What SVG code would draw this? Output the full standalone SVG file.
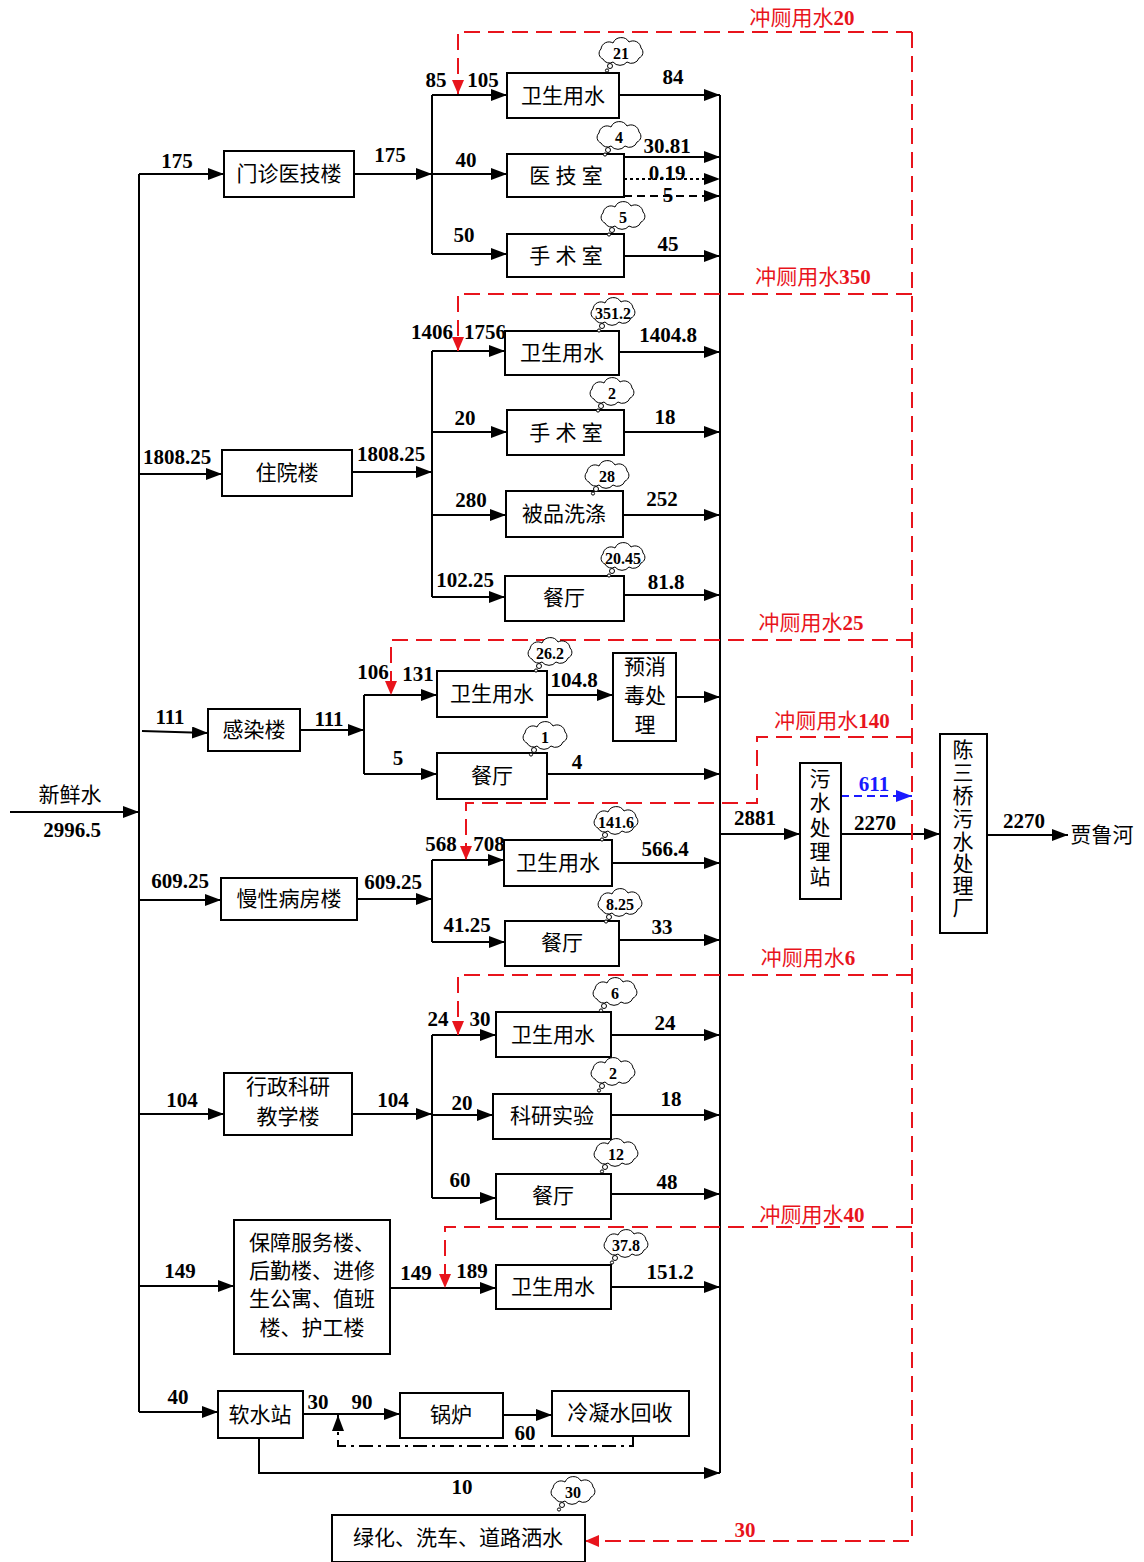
<svg xmlns="http://www.w3.org/2000/svg" width="1144" height="1562" viewBox="0 0 1144 1562">
<style>
.b{fill:#fff;stroke:#000;stroke-width:2}
.l{fill:none;stroke:#000;stroke-width:2}
.rd{fill:none;stroke:#e8141c;stroke-width:2;stroke-dasharray:16,8}
.n{font-family:"Liberation Serif",serif;font-weight:bold;font-size:21px;text-anchor:middle;fill:#000}
.c{font-family:"Liberation Serif","Noto Sans CJK SC",serif;font-size:21px;text-anchor:middle;fill:#000}
.r{fill:#e8141c}
.cn{font-family:"Liberation Serif",serif;font-weight:bold;font-size:16px;text-anchor:middle}
.cl{fill:#fff;stroke:#000;stroke-width:1}
</style>
<defs>
<marker id="a" markerWidth="16" markerHeight="12" refX="16" refY="6" orient="auto" markerUnits="userSpaceOnUse"><path d="M0,0L16,6L0,12z" fill="#000"/></marker>
<marker id="ar" markerWidth="14" markerHeight="12" refX="14" refY="6" orient="auto" markerUnits="userSpaceOnUse"><path d="M0,0L14,6L0,12z" fill="#e8141c"/></marker>
<marker id="ab" markerWidth="16" markerHeight="12" refX="16" refY="6" orient="auto" markerUnits="userSpaceOnUse"><path d="M0,0L16,6L0,12z" fill="#1a1aff"/></marker>
<g id="cloud">
<path class="cl" d="M-18,6a6,6 0 0 1 -2,-10a8,8 0 0 1 12,-6a9,9 0 0 1 16,-1a8,8 0 0 1 12,6a6,6 0 0 1 -2,10a8,8 0 0 1 -12,4a9,9 0 0 1 -14,0a7,7 0 0 1 -10,-3z"/>
<circle class="cl" cx="-11" cy="13" r="2.5"/>
<circle class="cl" cx="-14" cy="17.5" r="1.6"/>
</g>
</defs>

<g id="connectors">
<path class="l" d="M139,174V1412"/>
<path class="l" d="M10,812H139" marker-end="url(#a)"/>
<path class="l" d="M139,174H224" marker-end="url(#a)"/>
<path class="l" d="M139,474H222" marker-end="url(#a)"/>
<path class="l" d="M142,731L208,733" marker-end="url(#a)"/>
<path class="l" d="M139,900H221" marker-end="url(#a)"/>
<path class="l" d="M139,1114H224" marker-end="url(#a)"/>
<path class="l" d="M139,1286H234" marker-end="url(#a)"/>
<path class="l" d="M139,1412H218" marker-end="url(#a)"/>
<path class="l" d="M354,174H432" marker-end="url(#a)"/>
<path class="l" d="M432,95V254"/>
<path class="l" d="M432,95H507" marker-end="url(#a)"/>
<path class="l" d="M432,174H507" marker-end="url(#a)"/>
<path class="l" d="M432,254H507" marker-end="url(#a)"/>
<path class="l" d="M619,95H720" marker-end="url(#a)"/>
<path class="l" d="M624,157H720" marker-end="url(#a)"/>
<path class="l" d="M624,179H720" stroke-dasharray="3,3" marker-end="url(#a)"/>
<path class="l" d="M624,196H720" stroke-dasharray="8,5" marker-end="url(#a)"/>
<path class="l" d="M624,256H720" marker-end="url(#a)"/>
<path class="l" d="M352,472H432" marker-end="url(#a)"/>
<path class="l" d="M432,351V597"/>
<path class="l" d="M432,351H505" marker-end="url(#a)"/>
<path class="l" d="M432,432H507" marker-end="url(#a)"/>
<path class="l" d="M432,515H506" marker-end="url(#a)"/>
<path class="l" d="M432,597H505" marker-end="url(#a)"/>
<path class="l" d="M619,352H720" marker-end="url(#a)"/>
<path class="l" d="M624,432H720" marker-end="url(#a)"/>
<path class="l" d="M623,515H720" marker-end="url(#a)"/>
<path class="l" d="M624,595H720" marker-end="url(#a)"/>
<path class="l" d="M300,730H364" marker-end="url(#a)"/>
<path class="l" d="M364,695V774"/>
<path class="l" d="M364,695H437" marker-end="url(#a)"/>
<path class="l" d="M364,774H437" marker-end="url(#a)"/>
<path class="l" d="M547,695H613" marker-end="url(#a)"/>
<path class="l" d="M676,697H720" marker-end="url(#a)"/>
<path class="l" d="M547,774H720" marker-end="url(#a)"/>
<path class="l" d="M357,899H432" marker-end="url(#a)"/>
<path class="l" d="M432,860V942"/>
<path class="l" d="M432,860H504" marker-end="url(#a)"/>
<path class="l" d="M432,942H505" marker-end="url(#a)"/>
<path class="l" d="M612,863H720" marker-end="url(#a)"/>
<path class="l" d="M619,940H720" marker-end="url(#a)"/>
<path class="l" d="M352,1114H432" marker-end="url(#a)"/>
<path class="l" d="M432,1035V1198"/>
<path class="l" d="M432,1035H496" marker-end="url(#a)"/>
<path class="l" d="M432,1115H493" marker-end="url(#a)"/>
<path class="l" d="M432,1198H496" marker-end="url(#a)"/>
<path class="l" d="M611,1035H720" marker-end="url(#a)"/>
<path class="l" d="M611,1115H720" marker-end="url(#a)"/>
<path class="l" d="M611,1194H720" marker-end="url(#a)"/>
<path class="l" d="M390,1288H496" marker-end="url(#a)"/>
<path class="l" d="M611,1287H720" marker-end="url(#a)"/>
<path class="l" d="M303,1414H400" marker-end="url(#a)"/>
<path class="l" d="M503,1415H552" marker-end="url(#a)"/>
<path class="l" d="M633,1436V1446H338V1415" stroke-dasharray="14,5,3,5" marker-end="url(#a)"/>
<path class="l" d="M259,1438V1473H720" marker-end="url(#a)"/>
<path class="l" d="M720,95V1473"/>
<path class="l" d="M720,834H800" marker-end="url(#a)"/>
<path class="l" d="M841,834H940" marker-end="url(#a)"/>
<path class="l" d="M987,835H1068" marker-end="url(#a)"/>
<path d="M841,796H912" fill="none" stroke="#1a1aff" stroke-width="2" stroke-dasharray="8,5" marker-end="url(#ab)"/>
<path class="rd" d="M912,32V1541H585" marker-end="url(#ar)"/>
<path class="rd" d="M912,32H458V94" marker-end="url(#ar)"/>
<path class="rd" d="M912,294H458V351" marker-end="url(#ar)"/>
<path class="rd" d="M912,640H391V695" marker-end="url(#ar)"/>
<path class="rd" d="M912,737H757V803H466V860" marker-end="url(#ar)"/>
<path class="rd" d="M912,975H458V1035" marker-end="url(#ar)"/>
<path class="rd" d="M912,1227H445V1288" marker-end="url(#ar)"/>
</g>

<g id="node-menzhen"><rect class="b" x="224" y="151" width="130" height="46"/><text class="c" x="289" y="181">门诊医技楼</text></g>
<g id="node-zhuyuan"><rect class="b" x="222" y="450" width="130" height="46"/><text class="c" x="287" y="480">住院楼</text></g>
<g id="node-ganran"><rect class="b" x="208" y="709" width="92" height="42"/><text class="c" x="254" y="737">感染楼</text></g>
<g id="node-manxing"><rect class="b" x="221" y="878" width="136" height="42"/><text class="c" x="289" y="906">慢性病房楼</text></g>
<g id="node-xingzheng"><rect class="b" x="224" y="1073" width="128" height="62"/><text class="c" x="288" y="1094">行政科研</text><text class="c" x="288" y="1124">教学楼</text></g>
<g id="node-baozhang"><rect class="b" x="234" y="1220" width="156" height="134"/><text class="c" x="312" y="1250">保障服务楼、</text><text class="c" x="312" y="1278">后勤楼、进修</text><text class="c" x="312" y="1306">生公寓、值班</text><text class="c" x="312" y="1335">楼、护工楼</text></g>
<g id="node-ruanshui"><rect class="b" x="218" y="1391" width="85" height="47"/><text class="c" x="260" y="1422">软水站</text></g>

<g id="node-ws1"><rect class="b" x="507" y="73" width="112" height="45"/><text class="c" x="563" y="103">卫生用水</text></g>
<g id="node-yiji"><rect class="b" x="507" y="154" width="117" height="43"/><text class="c" x="566" y="183">医 技 室</text></g>
<g id="node-shoushu1"><rect class="b" x="507" y="234" width="117" height="43"/><text class="c" x="566" y="263">手 术 室</text></g>

<g id="node-ws2"><rect class="b" x="505" y="331" width="114" height="44"/><text class="c" x="562" y="360">卫生用水</text></g>
<g id="node-shoushu2"><rect class="b" x="507" y="410" width="117" height="45"/><text class="c" x="566" y="440">手 术 室</text></g>
<g id="node-beipin"><rect class="b" x="506" y="491" width="117" height="46"/><text class="c" x="564" y="521">被品洗涤</text></g>
<g id="node-canting2"><rect class="b" x="505" y="576" width="119" height="45"/><text class="c" x="564" y="605">餐厅</text></g>

<g id="node-ws3"><rect class="b" x="437" y="671" width="110" height="46"/><text class="c" x="492" y="701">卫生用水</text></g>
<g id="node-yuxiaodu"><rect class="b" x="613" y="653" width="63" height="88"/><text class="c" x="645" y="674">预消</text><text class="c" x="645" y="703">毒处</text><text class="c" x="645" y="732">理</text></g>
<g id="node-canting3"><rect class="b" x="437" y="753" width="110" height="46"/><text class="c" x="492" y="783">餐厅</text></g>

<g id="node-ws4"><rect class="b" x="504" y="840" width="108" height="46"/><text class="c" x="558" y="870">卫生用水</text></g>
<g id="node-canting4"><rect class="b" x="505" y="921" width="114" height="45"/><text class="c" x="562" y="950">餐厅</text></g>

<g id="node-ws5"><rect class="b" x="496" y="1012" width="115" height="45"/><text class="c" x="553" y="1042">卫生用水</text></g>
<g id="node-keyan"><rect class="b" x="493" y="1094" width="118" height="45"/><text class="c" x="552" y="1123">科研实验</text></g>
<g id="node-canting5"><rect class="b" x="496" y="1174" width="115" height="45"/><text class="c" x="553" y="1203">餐厅</text></g>

<g id="node-ws6"><rect class="b" x="496" y="1265" width="115" height="44"/><text class="c" x="553" y="1294">卫生用水</text></g>

<g id="node-guolu"><rect class="b" x="400" y="1393" width="103" height="45"/><text class="c" x="451" y="1422">锅炉</text></g>
<g id="node-lengning"><rect class="b" x="552" y="1391" width="137" height="45"/><text class="c" x="620" y="1420">冷凝水回收</text></g>
<g id="node-lvhua"><rect class="b" x="332" y="1515" width="253" height="47"/><text class="c" x="458" y="1545">绿化、洗车、道路洒水</text></g>

<g id="node-wushui"><rect class="b" x="800" y="763" width="41" height="136"/><text class="c" x="820" y="786">污</text><text class="c" x="820" y="810">水</text><text class="c" x="820" y="835">处</text><text class="c" x="820" y="859">理</text><text class="c" x="820" y="884">站</text></g>
<g id="node-chensanqiao"><rect class="b" x="940" y="734" width="47" height="199"/><text class="c" x="963" y="757">陈</text><text class="c" x="963" y="780">三</text><text class="c" x="963" y="803">桥</text><text class="c" x="963" y="826">污</text><text class="c" x="963" y="849">水</text><text class="c" x="963" y="871">处</text><text class="c" x="963" y="893">理</text><text class="c" x="963" y="915">厂</text></g>

<g id="clouds">
<use href="#cloud" x="621" y="53"/><text class="cn" x="621" y="59">21</text>
<use href="#cloud" x="619" y="137"/><text class="cn" x="619" y="143">4</text>
<use href="#cloud" x="623" y="217"/><text class="cn" x="623" y="223">5</text>
<use href="#cloud" x="613" y="313"/><text class="cn" x="613" y="319">351.2</text>
<use href="#cloud" x="612" y="393"/><text class="cn" x="612" y="399">2</text>
<use href="#cloud" x="607" y="476"/><text class="cn" x="607" y="482">28</text>
<use href="#cloud" x="623" y="558"/><text class="cn" x="623" y="564">20.45</text>
<use href="#cloud" x="550" y="653"/><text class="cn" x="550" y="659">26.2</text>
<use href="#cloud" x="545" y="737"/><text class="cn" x="545" y="743">1</text>
<use href="#cloud" x="616" y="822"/><text class="cn" x="616" y="828">141.6</text>
<use href="#cloud" x="620" y="904"/><text class="cn" x="620" y="910">8.25</text>
<use href="#cloud" x="615" y="993"/><text class="cn" x="615" y="999">6</text>
<use href="#cloud" x="613" y="1073"/><text class="cn" x="613" y="1079">2</text>
<use href="#cloud" x="616" y="1154"/><text class="cn" x="616" y="1160">12</text>
<use href="#cloud" x="626" y="1245"/><text class="cn" x="626" y="1251">37.8</text>
<use href="#cloud" x="573" y="1492"/><text class="cn" x="573" y="1498">30</text>
</g>

<g id="labels">
<text class="c" x="70" y="802">新鲜水</text>
<text class="n" x="72" y="837">2996.5</text>
<text class="c" x="1102" y="842">贾鲁河</text>
<text class="n" x="177" y="168">175</text>
<text class="n" x="177" y="464">1808.25</text>
<text class="n" x="170" y="724">111</text>
<text class="n" x="180" y="888">609.25</text>
<text class="n" x="182" y="1107">104</text>
<text class="n" x="180" y="1278">149</text>
<text class="n" x="178" y="1404">40</text>
<text class="n" x="390" y="162">175</text>
<text class="n" x="391" y="461">1808.25</text>
<text class="n" x="329" y="726">111</text>
<text class="n" x="393" y="889">609.25</text>
<text class="n" x="393" y="1107">104</text>
<text class="n" x="416" y="1280">149</text>
<text class="n" x="436" y="87">85</text>
<text class="n" x="483" y="87">105</text>
<text class="n" x="673" y="84">84</text>
<text class="n" x="466" y="167">40</text>
<text class="n" x="667" y="153">30.81</text>
<text class="n" x="667" y="180">0.19</text>
<text class="n" x="668" y="202">5</text>
<text class="n" x="464" y="242">50</text>
<text class="n" x="668" y="251">45</text>
<text class="n" x="432" y="339">1406</text>
<text class="n" x="485" y="339">1756</text>
<text class="n" x="668" y="342">1404.8</text>
<text class="n" x="465" y="425">20</text>
<text class="n" x="665" y="424">18</text>
<text class="n" x="471" y="507">280</text>
<text class="n" x="662" y="506">252</text>
<text class="n" x="465" y="587">102.25</text>
<text class="n" x="666" y="589">81.8</text>
<text class="n" x="373" y="679">106</text>
<text class="n" x="418" y="681">131</text>
<text class="n" x="574" y="687">104.8</text>
<text class="n" x="398" y="765">5</text>
<text class="n" x="577" y="769">4</text>
<text class="n" x="441" y="851">568</text>
<text class="n" x="489" y="851">708</text>
<text class="n" x="665" y="856">566.4</text>
<text class="n" x="467" y="932">41.25</text>
<text class="n" x="662" y="934">33</text>
<text class="n" x="438" y="1026">24</text>
<text class="n" x="480" y="1026">30</text>
<text class="n" x="665" y="1030">24</text>
<text class="n" x="462" y="1110">20</text>
<text class="n" x="671" y="1106">18</text>
<text class="n" x="460" y="1187">60</text>
<text class="n" x="667" y="1189">48</text>
<text class="n" x="472" y="1278">189</text>
<text class="n" x="670" y="1279">151.2</text>
<text class="n" x="318" y="1409">30</text>
<text class="n" x="362" y="1409">90</text>
<text class="n" x="525" y="1440">60</text>
<text class="n" x="462" y="1494">10</text>
<text class="n" x="755" y="825">2881</text>
<text class="n" x="875" y="830">2270</text>
<text class="n" x="874" y="791" style="fill:#1a1aff">611</text>
<text class="n" x="1024" y="828">2270</text>
<text class="n r" x="745" y="1537">30</text>
<text class="c r" x="802" y="25">冲厕用水<tspan font-weight="bold">20</tspan></text>
<text class="c r" x="813" y="284">冲厕用水<tspan font-weight="bold">350</tspan></text>
<text class="c r" x="811" y="630">冲厕用水<tspan font-weight="bold">25</tspan></text>
<text class="c r" x="832" y="728">冲厕用水<tspan font-weight="bold">140</tspan></text>
<text class="c r" x="808" y="965">冲厕用水<tspan font-weight="bold">6</tspan></text>
<text class="c r" x="812" y="1222">冲厕用水<tspan font-weight="bold">40</tspan></text>
</g>
</svg>
